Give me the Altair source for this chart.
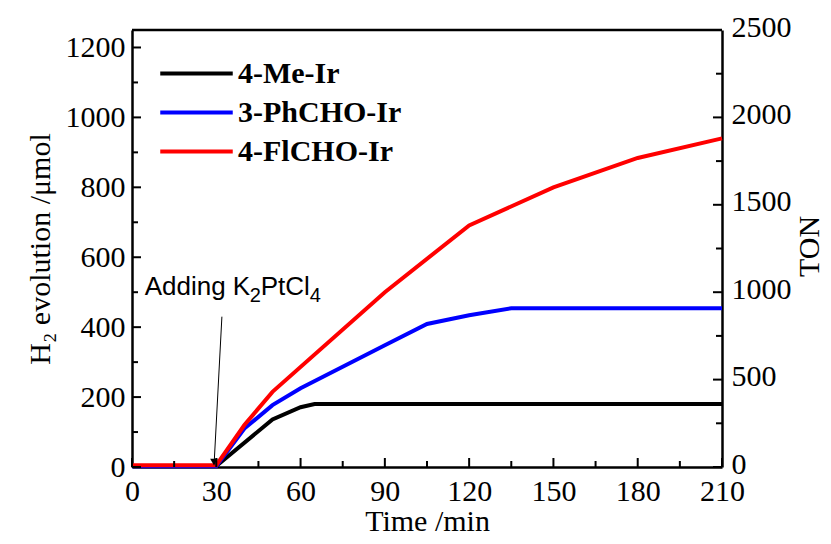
import altair as alt
import pandas as pd

# ---- data ----
series_names = ["4-Me-Ir", "3-PhCHO-Ir", "4-FlCHO-Ir"]
series_colors = ["#000000", "#0000ff", "#ff0000"]

time_me = [0, 30, 50, 60, 65, 210]
h2_me = [3, 3, 136, 171, 180, 180]

time_ph = [0, 30, 40, 50, 60, 90, 105, 120, 135, 210]
h2_ph = [2, 2, 110, 177, 225, 348, 409, 434, 454, 454]

time_fl = [0, 30, 40, 50, 90, 120, 150, 180, 210]
h2_fl = [5, 5, 120, 215, 500, 691, 800, 884, 940]

x_ticks = [0, 30, 60, 90, 120, 150, 180, 210]
x_minor = [15, 45, 75, 105, 135, 165, 195]
y_ticks = [0, 200, 400, 600, 800, 1000, 1200]
y_minor = [100, 300, 500, 700, 900, 1100]
ton_ticks = [0, 500, 1000, 1500, 2000, 2500]
ton_minor = [250, 750, 1250, 1750, 2250]

annot_parts = ["Adding K", "2", "PtCl", "4"]

W, H = 590, 437
SERIF = "Liberation Serif"
SANS = "Liberation Sans"

rows = []
for name, ts, vs in [(series_names[0], time_me, h2_me),
                     (series_names[1], time_ph, h2_ph),
                     (series_names[2], time_fl, h2_fl)]:
    for i, (t, v) in enumerate(zip(ts, vs)):
        rows.append({"series": name, "time": t, "h2": v, "order": i})
df = pd.DataFrame(rows)

xscale = alt.Scale(domain=[0, 210], nice=False, zero=False)
yscale = alt.Scale(domain=[0, 1250], nice=False)
tonscale = alt.Scale(domain=[0, 2500], nice=False)

common = dict(ticks=False, grid=False, format="d", labelFont=SERIF, labelFontSize=30,
              labelColor="black", labelFlush=False, titleFont=SERIF, titleFontSize=30,
              titleFontWeight="normal", titleColor="black",
              domain=True, domainColor="black", domainWidth=2.5)

x_axis = alt.Axis(values=x_ticks, labelPadding=9, title="Time /min", titlePadding=0, **common)
y_axis = alt.Axis(orient="left", values=y_ticks, labelPadding=7,
                  title="H₂ evolution /μmol", titlePadding=10, **common)
ton_axis = alt.Axis(orient="right", values=ton_ticks, labelPadding=9, labelOffset=-3,
                    title="TON", titleAngle=-90, titleX=87, titleY=216,
                    titleAlign="center", titleBaseline="middle", **common)


def X(field):
    return alt.X(field, scale=xscale, axis=x_axis)


def Y(field):
    return alt.Y(field, scale=yscale, axis=y_axis)


lines = alt.Chart(df).mark_line(strokeWidth=4).encode(
    x=X("time:Q"),
    y=Y("h2:Q"),
    color=alt.Color("series:N", sort=series_names,
                    scale=alt.Scale(domain=series_names, range=series_colors),
                    legend=alt.Legend(orient="none", legendX=48, legendY=27, title=None,
                                      symbolType="M-2.5,0H2.5", symbolSize=841,
                                      symbolStrokeWidth=4, labelFont=SERIF,
                                      labelFontSize=30, labelFontWeight="bold",
                                      labelColor="black", rowPadding=7,
                                      labelOffset=25, labelLimit=0)),
    order="order:Q",
)


def rules_x(vals, length):
    return alt.Chart(pd.DataFrame({"v": vals})).mark_rule(color="black", strokeWidth=2).encode(
        x=X("v:Q"), y=alt.value(H), y2=alt.value(H - length))


def rules_y(vals, length):
    return alt.Chart(pd.DataFrame({"v": vals})).mark_rule(color="black", strokeWidth=2).encode(
        y=Y("v:Q"), x=alt.value(0), x2=alt.value(length))


# annotation "Adding K2PtCl4" with real subscripts
ann_df = pd.DataFrame({"t": [4.5] * 4, "v": [492] * 4, "label": annot_parts,
                       "dx": [0, 105, 116, 165], "dy": [0, 7, 0, 7],
                       "size": [26, 20, 26, 20]})
ann_layers = []
for i in range(4):
    row = ann_df.iloc[[i]]
    ann_layers.append(
        alt.Chart(row).mark_text(font=SANS, fontSize=int(row["size"].iloc[0]), align="left",
                                 baseline="alphabetic", color="black",
                                 dx=int(row["dx"].iloc[0]), dy=int(row["dy"].iloc[0])).encode(
            x=X("t:Q"), y=Y("v:Q"), text="label:N"))

arrow_df = pd.DataFrame({"t": [32.0], "v": [430], "t2": [29.3], "v2": [20]})
arrow_line = alt.Chart(arrow_df).mark_rule(color="black", strokeWidth=1).encode(
    x=X("t:Q"), y=Y("v:Q"), x2="t2:Q", y2="v2:Q")
head_df = pd.DataFrame({"t": [29.2], "v": [14]})
arrow_head = alt.Chart(head_df).mark_point(shape="triangle-down", filled=True, size=60,
                                           color="black", opacity=1).encode(
    x=X("t:Q"), y=Y("v:Q"))

top_rule = alt.Chart(pd.DataFrame({"v": [0]})).mark_rule(color="black", strokeWidth=2.5).encode(
    x=alt.value(0), x2=alt.value(W), y=alt.value(0))

left = alt.layer(lines, rules_x(x_ticks, 9), rules_x(x_minor, 6),
                 rules_y(y_ticks, 9), rules_y(y_minor, 6),
                 arrow_line, arrow_head, *ann_layers, top_rule)

right_major = alt.Chart(pd.DataFrame({"v": ton_ticks})).mark_rule(color="black", strokeWidth=2).encode(
    y=alt.Y("v:Q", scale=tonscale, axis=ton_axis),
    x=alt.value(W), x2=alt.value(W - 9))
right_minor = alt.Chart(pd.DataFrame({"v": ton_minor})).mark_rule(color="black", strokeWidth=2).encode(
    y=alt.Y("v:Q", scale=tonscale, axis=ton_axis),
    x=alt.value(W), x2=alt.value(W - 6))
right = alt.layer(right_major, right_minor)

chart = alt.layer(left, right).resolve_scale(y="independent").properties(
    width=W, height=H,
    background="white",
    autosize=alt.AutoSizeParams(type="none"),
    padding={"left": 124, "top": 22, "right": 101, "bottom": 69},
).configure_view(stroke=None).configure_axis(
    labelFont=SERIF, titleFont=SERIF, labelColor="black", titleColor="black"
)

chart.save("out.html", embed_options={"renderer": "svg", "actions": False})
